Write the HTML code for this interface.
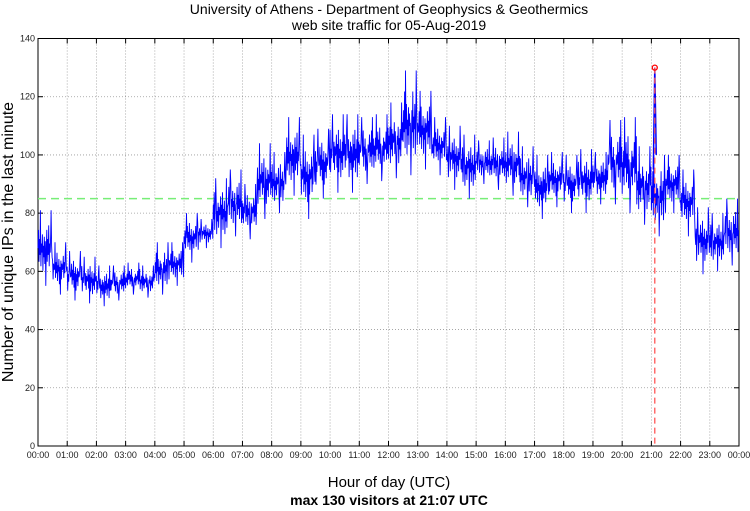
<!DOCTYPE html>
<html><head><meta charset="utf-8"><style>
html,body{margin:0;padding:0;background:#fff;width:750px;height:511px;overflow:hidden}
svg text{font-family:"Liberation Sans",sans-serif}
</style></head><body>
<svg id="chart" width="750" height="511" xmlns="http://www.w3.org/2000/svg">
<text x="389" y="14" font-size="14" text-anchor="middle">University of Athens - Department of Geophysics &amp; Geothermics</text>
<text x="389" y="30" font-size="14" text-anchor="middle">web site traffic for 05-Aug-2019</text>
<g id="grid"></g>
<g id="axes"></g>
<g id="series"></g>
<text transform="translate(13,242) rotate(-90)" font-size="16" text-anchor="middle">Number of unique IPs in the last minute</text>
<text x="389" y="487" font-size="15" text-anchor="middle">Hour of day (UTC)</text>
<text x="389" y="505" font-size="14" font-weight="bold" text-anchor="middle">max 130 visitors at 21:07 UTC</text>
</svg>
<script>
// half-hour buckets, low/high values
const bucketLow  = [55,52,50,49,48,50,52,51,52,55,63,68,68,72,71,78,80,86,78,85,87,87,90,91,92,93,95,93,88,85,90,88,86,82,78,82,80,80,83,83,80,76,72,80,72,59,60,62];
const bucketHigh = [81,70,67,65,62,62,63,62,70,70,80,78,92,95,90,104,101,113,107,109,114,114,113,114,118,129,122,113,110,107,105,106,108,103,100,101,100,102,101,112,113,103,100,100,95,82,80,85];
const yTicks = [0,20,40,60,80,100,120,140];
const xTickLabels = ["00:00","01:00","02:00","03:00","04:00","05:00","06:00","07:00","08:00","09:00","10:00","11:00","12:00","13:00","14:00","15:00","16:00","17:00","18:00","19:00","20:00","21:00","22:00","23:00","00:00"];
const threshold = 85;
const peakMinute = 21*60+7;
const peakValue = 130;

const NS="http://www.w3.org/2000/svg";
const L=38,R=739,T=38.5,B=446;
const xs=m=>L+(R-L)*m/1440;
const ys=v=>B-(B-T)*v/140;
function mk(tag,attrs,parent){const e=document.createElementNS(NS,tag);for(const k in attrs)e.setAttribute(k,attrs[k]);parent.appendChild(e);return e;}
const grid=document.getElementById('grid'),axes=document.getElementById('axes'),series=document.getElementById('series');

yTicks.forEach(v=>{
  const y=ys(v);
  if(v>0&&v<140){const g=mk('line',{x1:L,x2:R,y1:y,y2:y,stroke:'#999','stroke-width':0.8,'stroke-dasharray':'1,2'},grid);
  
  }
  mk('line',{x1:L,x2:L+5,y1:y,y2:y,stroke:'#000'},axes);
  mk('line',{x1:R,x2:R-5,y1:y,y2:y,stroke:'#000'},axes);
  const t=mk('text',{x:L-3,y:y+3,'font-size':9,'text-anchor':'end',fill:'#222'},axes);
  t.textContent=v;
  
  
});
xTickLabels.forEach((lab,i)=>{
  const x=xs(i*60);
  if(i>0&&i<24){const g=mk('line',{x1:x,x2:x,y1:T,y2:B,stroke:'#999','stroke-width':0.8,'stroke-dasharray':'1,2'},grid);
  
  }
  mk('line',{x1:x,x2:x,y1:B,y2:B-5,stroke:'#000'},axes);
  mk('line',{x1:x,x2:x,y1:T,y2:T+5,stroke:'#000'},axes);
  const t=mk('text',{x:x,y:B+12,'font-size':9,'text-anchor':'middle',fill:'#222'},axes);
  t.textContent=lab;
  
  
});
const frame=mk('rect',{x:L,y:T,width:R-L,height:B-T,fill:'none',stroke:'#000','stroke-width':1},axes);



const th=mk('line',{x1:L,x2:R,y1:ys(threshold),y2:ys(threshold),stroke:'#7e7','stroke-width':1.5,'stroke-dasharray':'8,5'},series);



const pat=[0.5,0.9,0.2,0.7,0.35,1,0.1,0.6,0.4,0.8,0,0.55,0.3,0.75,0.15,0.65,0.45];
let d='';const steps=30;
bucketLow.forEach((lo,b)=>{
  const hi=bucketHigh[b];
  const mid=(lo+hi)/2, core=(hi-lo)*0.6;
  for(let s=0;s<steps;s++){
    const m=b*30+s;
    const k=pat[(b*steps+s)%pat.length];
    const extreme=(s%11===5)?(s%2?hi:lo):null;
    const v=extreme!==null?extreme:mid-core/2+core*k;
    d+=(d?'L':'M')+xs(m).toFixed(1)+','+ys(v).toFixed(1);
  }
});
const line=mk('path',{d:d,fill:'none',stroke:'#00f','stroke-width':0.9},series);



const spike=mk('path',{d:'M'+xs(peakMinute-3)+','+ys(95)+'L'+xs(peakMinute)+','+ys(peakValue)+'L'+xs(peakMinute+3)+','+ys(100),fill:'none',stroke:'#00f','stroke-width':1.5},series);



const vl=mk('line',{x1:xs(peakMinute),x2:xs(peakMinute),y1:ys(peakValue),y2:B,stroke:'#f55','stroke-width':1.3,'stroke-dasharray':'6,4'},series);


const pm=mk('circle',{cx:xs(peakMinute),cy:ys(peakValue),r:2.5,fill:'none',stroke:'#f00','stroke-width':1.3},series);


</script>
</body></html>
